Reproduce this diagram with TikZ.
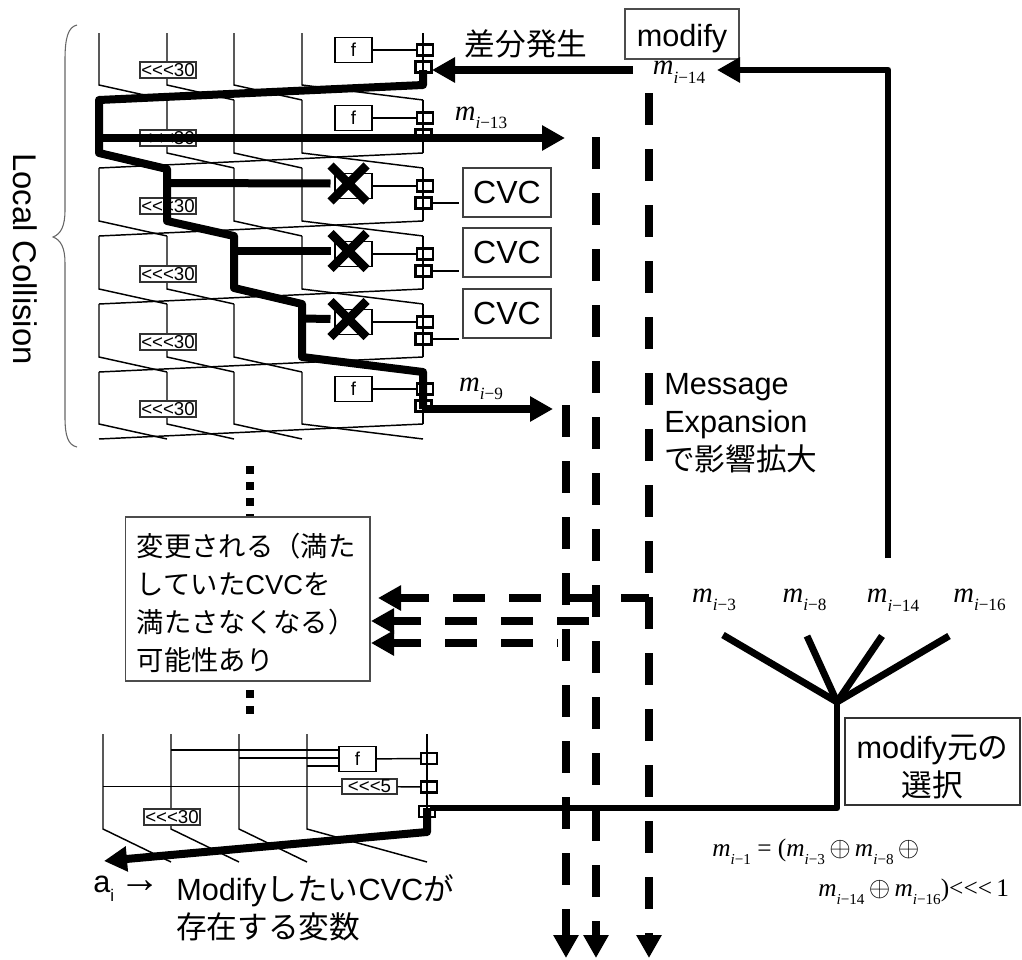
\documentclass[tikz,border=0pt]{standalone}
\usepackage{fontspec}
\setmainfont{Liberation Sans}
\newfontfamily\timesfont{Liberation Serif}
\newfontfamily\jpfont{Noto Sans CJK JP}
\usetikzlibrary{positioning,shapes.misc,arrows.meta}
\newcommand{\jp}[1]{{\jpfont #1}}
\newcommand{\rotl}{<{}<{}<}
\newcommand{\mvar}[1]{{\itshape m}\raisebox{-0.3em}{\scalebox{0.6}{{\itshape i}−#1}}}
\newcommand{\xorsym}{\scalebox{1.2}{$\oplus$}}
\tikzset{
  % --- round function --------------------------------------------------------
  wire/.style={black,line width=1.1pt},
  fbox/.style={rectangle,draw,fill=white,line width=1.1pt,inner sep=0pt,
               minimum width=27.75pt,minimum height=18.75pt,
               font=\fontsize{14}{14}\selectfont},
  shiftbox/.style={rectangle,draw=black!80,fill=white,line width=1pt,inner sep=0pt,
               minimum width=42pt,minimum height=12pt,
               font=\fontsize{14}{14}\selectfont},
  addbox/.style={rectangle,draw,fill=white,line width=1.7pt,inner sep=0pt,
               minimum width=12pt,minimum height=8.25pt},
  vetomark/.style={cross out,draw,line width=6.5pt,inner sep=0pt,
               minimum width=20.5pt,minimum height=20.5pt},
  % --- captions --------------------------------------------------------------
  cvcbox/.style={rectangle,draw=black!75,fill=white,line width=1pt,inner sep=0pt,
               minimum width=66pt,minimum height=36.75pt,
               font=\fontsize{24}{24}\selectfont},
  bigtxt/.style={font=\fontsize{23}{28.5}\selectfont,inner sep=0pt},
  mlab/.style={font=\timesfont\fontsize{21.5}{21.5}\selectfont,inner sep=0pt},
  eqline/.style={anchor=west,inner sep=0pt,font=\timesfont\fontsize{19}{19}\selectfont},
  % --- heavy links -----------------------------------------------------------
  heavy/.style={line width=6pt,line join=round},
  medium/.style={line width=5.2pt,line join=round},
  bigtip/.style={-{Triangle[length=17.25pt,width=18pt]}},
  spread/.style={line width=6pt,dash pattern=on 24pt off 18pt},
}
\begin{document}
\begin{tikzpicture}[x=0.75pt,y=-0.75pt]
  \useasboundingbox (0,0) rectangle (1022,960);

  % brace and its caption
  \draw[black!60,line width=0.8pt] (77,25) .. controls (68,27) and (65,38) .. (65,60)
    -- (65,210) .. controls (65,226) and (61,234) .. (53,237)
    .. controls (61,240) and (65,248) .. (65,263)
    -- (65,417) .. controls (65,436) and (68,445) .. (77,447);
  \node[bigtxt,font=\fontsize{24.6}{24.6}\selectfont,rotate=-90] (lc) at (25,259) {Local Collision};

  % six rounds
  \foreach \rw/\tp/\bt/\flab in {0/33/85/f,1/100/153/f,2/168/221/{},3/236/289/{},4/304/357/{},5/372/424/f}{
    \foreach \cx/\nx in {99/167,167/234,234/302,302/423}{
      \draw[wire] (\cx,\tp) -- (\cx,\bt) -- (\nx,\bt+15);
    }
    \draw[wire] (423,\bt) -- (99,\bt+15);
    \node[shiftbox] (s\rw) at (168,\bt-15) {\rotl30};
    \node[fbox] (f\rw) at (353.5,\bt-35) {\flab};
    \node[addbox] (a\rw) at (425,\bt-35) {};
    \node[addbox] (b\rw) at (423.5,\bt-18) {};
    \draw[wire] (f\rw) -- (a\rw);
    \draw[wire] (423,\tp) -- (423,\bt);
  }

  % dots between the parts
  \coordinate (dt1) at (249.5,466);
  \coordinate (dt2) at (249.5,714);
  \draw[line width=6pt,dash pattern=on 6pt off 6pt] (dt1) -- (dt2);

  % last round
  \foreach \cx/\nx in {103/171,171/239,239/307,307/427}{
    \draw[wire] (\cx,734) -- (\cx,829) -- (\nx,862);
  }
  \node[fbox] (fl) at (357.5,759) {f};
  \node[shiftbox,minimum width=41.25pt,minimum height=11.25pt] (sf) at (369.5,786.5) {\rotl5};
  \node[shiftbox] (sl) at (172,817) {\rotl30};
  \node[addbox] (al) at (429,758.5) {};
  \node[addbox] (bl) at (429,787) {};
  \node[addbox] (cl) at (427,811.5) {};
  \draw[wire] (427,734) -- (427,829);
  \draw[wire] (171,750) -- (339,750);
  \draw[wire] (239,758) -- (339,758);
  \draw[wire] (307,766) -- (339,766);
  \draw[wire] (103,786.5) -- (sf);
  \draw[wire] (sf) -- (bl);
  \draw[wire] (fl) -- (al);

  % CVC boxes
  \node[cvcbox] (cvc2) at (507,192.5) {CVC};
  \node[cvcbox] (cvc3) at (507,252.5) {CVC};
  \node[cvcbox] (cvc4) at (507,313.5) {CVC};
  \foreach \rw/\yy in {2/203,3/271,4/339}{
    \coordinate (e\rw) at (459,\yy);
    \draw[wire] (b\rw.east) -- (e\rw);
  }

  % differential path through the rounds
  \coordinate (p0) at (423,70);
  \coordinate (p1) at (423,85);
  \coordinate (p2) at (99,100);
  \coordinate (p3) at (99,153);
  \coordinate (p4) at (167,169);
  \coordinate (p5) at (167,221);
  \coordinate (p6) at (234,236);
  \coordinate (p7) at (234,288);
  \coordinate (p8) at (302,304);
  \coordinate (p9) at (302,357);
  \coordinate (p10) at (423,372);
  \coordinate (p11) at (423,409);
  \draw[heavy] (p0) -- (p1) -- (p2) -- (p3) -- (p4) -- (p5) -- (p6) -- (p7)
     -- (p8) -- (p9) -- (p10) -- (p11);

  % vetoed f inputs
  \node[vetomark] (x2) at (348.5,183.5) {};
  \node[vetomark] (x3) at (348.5,251) {};
  \node[vetomark] (x4) at (348.5,319) {};
  \coordinate (h2) at (167,183);
  \coordinate (h3) at (234,251);
  \coordinate (h4) at (302,318.5);
  \foreach \rw in {2,3,4}{
    \draw[heavy] (h\rw) -- (x\rw.west);
  }

  % message words
  \node[bigtxt] (dgen) at (526,44) {\jp{差分発生}};
  \node[rectangle,draw=black!70,line width=1pt,bigtxt,minimum width=85.5pt,minimum height=37.5pt] (mod) at (682,34) {\rule{0pt}{23pt}modify};
  \node[mlab] (m14t) at (679,72) {\mvar{14}};
  \node[mlab] (m13) at (481,118) {\mvar{13}};
  \node[mlab] (m9) at (481,389) {\mvar{9}};
  \coordinate (in14) at (633,70);
  \coordinate (tip14) at (432,70);
  \coordinate (tipm) at (717,70);
  \coordinate (bend) at (888,70);
  \coordinate (up) at (888,558);
  \coordinate (l13) at (99,138);
  \coordinate (r13) at (565,138);
  \coordinate (r9) at (553,409);
  \draw[heavy,bigtip] (in14) -- (tip14);
  \draw[medium,bigtip] (up) -- (bend) -- (tipm);
  \draw[heavy,bigtip] (l13) -- (r13);
  \draw[heavy,bigtip] (p11) -- (r9);

  % expansion, downwards
  \foreach \nm/\xx/\yy in {a/566/405,b/596/137,c/649/93}{
    \coordinate (v\nm) at (\xx,\yy);
    \coordinate (w\nm) at (\xx,958);
    \draw[spread,bigtip] (v\nm) -- (w\nm);
  }
  % and to the left
  \coordinate (r1) at (649,598);
  \coordinate (r2) at (589,621);
  \coordinate (r3) at (558,643);
  \coordinate (t1) at (378,598);
  \coordinate (t2) at (371,621);
  \coordinate (t3) at (371,643);
  \draw[spread,dash phase=3pt,bigtip] (r1) -- (t1);
  \draw[spread,bigtip] (r2) -- (t2);
  \draw[spread,dash phase=23.25pt,bigtip] (r3) -- (t3);

  \node[rectangle,draw=black!70,fill=white,line width=1pt,inner xsep=8.75pt,inner ysep=0pt,
        text width=166pt,minimum height=123pt,align=left,
        font=\fontsize{20.5}{28.5}\selectfont] (note) at (247.5,599)
    {\rule{0pt}{24pt}\jp{変更される（満た}\\\jp{していた}CVC\jp{を}\\\jp{満たさなくなる）}\\\jp{可能性あり}};

  \node[bigtxt,anchor=west,align=left] (msg) at (664,423)
    {Message\\Expansion\\\jp{で影響拡大}};

  % source selection
  \node[mlab] (m3) at (714,600) {\mvar{3}};
  \node[mlab] (m8) at (804.5,600) {\mvar{8}};
  \node[mlab] (m14) at (893,600) {\mvar{14}};
  \node[mlab] (m16) at (979.5,600) {\mvar{16}};
  \coordinate (jn) at (837,702);
  \coordinate (f3) at (723,635);
  \coordinate (f8) at (807,636);
  \coordinate (f14) at (882,636);
  \coordinate (f16) at (949,636);
  \foreach \nm in {f3,f8,f14,f16}{
    \draw[medium] (\nm) -- (jn);
  }
  \coordinate (kn) at (837,808);
  \coordinate (ent) at (430,808);
  \draw[medium] (jn) -- (kn) -- (ent);
  \node[rectangle,draw=black!80,line width=1pt,bigtxt,align=center,minimum width=131.25pt,minimum height=65.25pt] (sel) at (932.5,761.5)
    {\rule{0pt}{26pt}modify\jp{元の}\\\jp{選択}};

  % result arrow
  \coordinate (o0) at (427,808);
  \coordinate (o1) at (427,832);
  \coordinate (o2) at (104,861);
  \draw[heavy,bigtip] (o0) -- (o1) -- (o2);
  \node[bigtxt,anchor=west] (ai) at (93,889) {a\raisebox{-0.3em}{\scalebox{0.55}{i}}\,\scalebox{1.35}{→}};
  \node[bigtxt,anchor=north west,align=left] (want) at (176,874)
    {Modify\jp{したい}CVC\jp{が}\\\jp{存在する変数}};

  % update formula
  \node[eqline] (eq1) at (712,852)
    {\mvar{1} = (\mvar{3}\,\xorsym\,\mvar{8}\,\xorsym};
  \node[eqline] (eq2) at (818,892)
    {\mvar{14}\,\xorsym\,\mvar{16})\rotl\,1};
\end{tikzpicture}
\end{document}
